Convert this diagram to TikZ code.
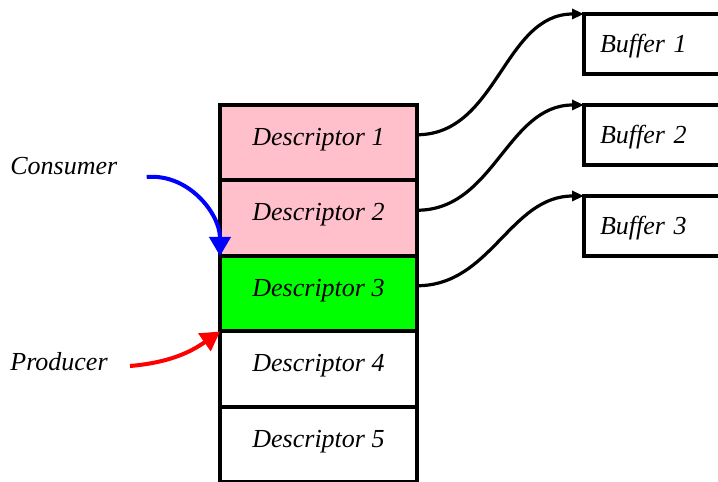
\documentclass[tikz,border=0pt]{standalone}
\usepackage{fontspec}
\setmainfont{Liberation Serif}
\usepackage{xcolor}
\usepackage{tikz}
\usetikzlibrary{arrows.meta}

\definecolor{descpink}{RGB}{255,192,203}
\definecolor{descgreen}{RGB}{0,255,0}

\begin{document}
\begin{tikzpicture}[x=0.5pt, y=0.5pt,
    font=\fontsize{13pt}{15pt}\selectfont\itshape,
    descbox/.style={draw, line width=2pt, outer sep=0pt, inner sep=0pt, minimum width=98.5pt, minimum height=37.75pt, text height=9pt, text depth=6.5pt},
    bufbox/.style={draw, line width=1.75pt, outer sep=0pt, inner ysep=0pt, inner xsep=8pt, text width=54pt, align=left, minimum height=30pt, text height=9pt, text depth=0pt, anchor=north west},
    link/.style={-{Triangle[length=6pt,width=5pt]}, line width=1.6pt},
    pointer/.style={-{Triangle[length=9.5pt,width=10.5pt]}, line width=2pt}]
    \useasboundingbox (0, 0) rectangle (718, 482);

    \node[descbox, fill=descpink] (descriptor1) at (318.5, 339.25) {Descriptor 1};

    \node[descbox, fill=descpink] (descriptor2) at (318.5, 263.75) {Descriptor 2};

    \node[descbox, fill=descgreen] (descriptor3) at (318.5, 188.25) {Descriptor 3};

    \node[descbox] (descriptor4) at (318.5, 112.75) {Descriptor 4};

    \node[descbox] (descriptor5) at (318.5, 37.25) {Descriptor 5};

    \node[bufbox] (buffer1) at (584, 468) {Buffer 1};

    \node[bufbox] (buffer2) at (584, 377) {Buffer 2};

    \node[bufbox] (buffer3) at (584, 286) {Buffer 3};

    \node[anchor=base west, inner sep=0pt] (consumer) at (10, 307) {Consumer};

    \node[anchor=base west, inner sep=0pt] (producer) at (10, 111) {Producer};

    \draw[link] ([yshift=4pt]descriptor1.east) to[out=0, in=180] (buffer1.north west);

    \draw[link] ([yshift=4pt]descriptor2.east) to[out=0, in=180] (buffer2.north west);

    \draw[link] ([yshift=4pt]descriptor3.east) to[out=0, in=180] (buffer3.north west);

    \draw[pointer, blue] ([xshift=14.5pt, yshift=-1pt]consumer.base east) to[out=5, in=90] (descriptor2.south west);

    \draw[pointer, red] ([xshift=11pt, yshift=2.5pt]producer.base east) to[out=5, in=215] (descriptor3.south west);
\end{tikzpicture}
\end{document}
